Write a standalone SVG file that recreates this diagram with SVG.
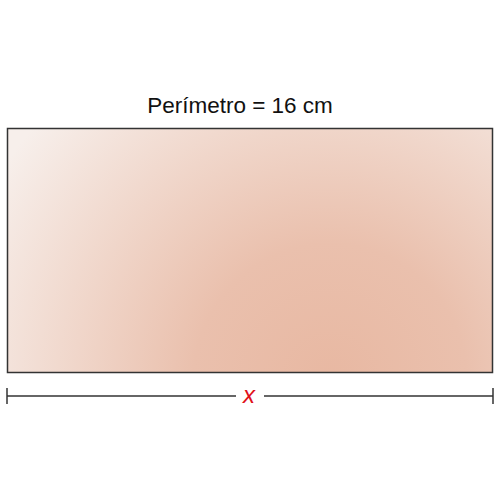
<svg xmlns="http://www.w3.org/2000/svg" width="500" height="500" viewBox="0 0 500 500">
<defs>
<radialGradient id="g" gradientUnits="userSpaceOnUse" cx="330" cy="380" r="390" fx="330" fy="380">
<stop offset="0" stop-color="#e8b8a2"/>
<stop offset="0.35" stop-color="#eac0ad"/>
<stop offset="1" stop-color="#f7efeb"/>
</radialGradient>
<style>
.dim{stroke:#333;stroke-width:1.5;fill:none}
</style>
</defs>
<rect width="500" height="500" fill="#fff"/>
<g id="rect">
<rect x="7.5" y="128.5" width="485" height="244" fill="url(#g)" stroke="#333" stroke-width="1.5"/>
</g>
<g id="title">
<text x="240" y="113" font-family="Liberation Sans, Arial, sans-serif" font-size="22.5" text-anchor="middle" fill="#111">Perímetro = 16 cm</text>
</g>
<g id="connectors">
<line class="dim" x1="7" y1="396" x2="236" y2="396"/>
<line class="dim" x1="264" y1="396" x2="493" y2="396"/>
<line class="dim" x1="7" y1="388" x2="7" y2="404"/>
<line class="dim" x1="493" y1="388" x2="493" y2="404"/>
</g>
<g id="xlabel">
<text x="249" y="403" font-family="Liberation Sans, Arial, sans-serif" font-size="24" font-style="italic" text-anchor="middle" fill="#e0101a">x</text>
</g>
</svg>
